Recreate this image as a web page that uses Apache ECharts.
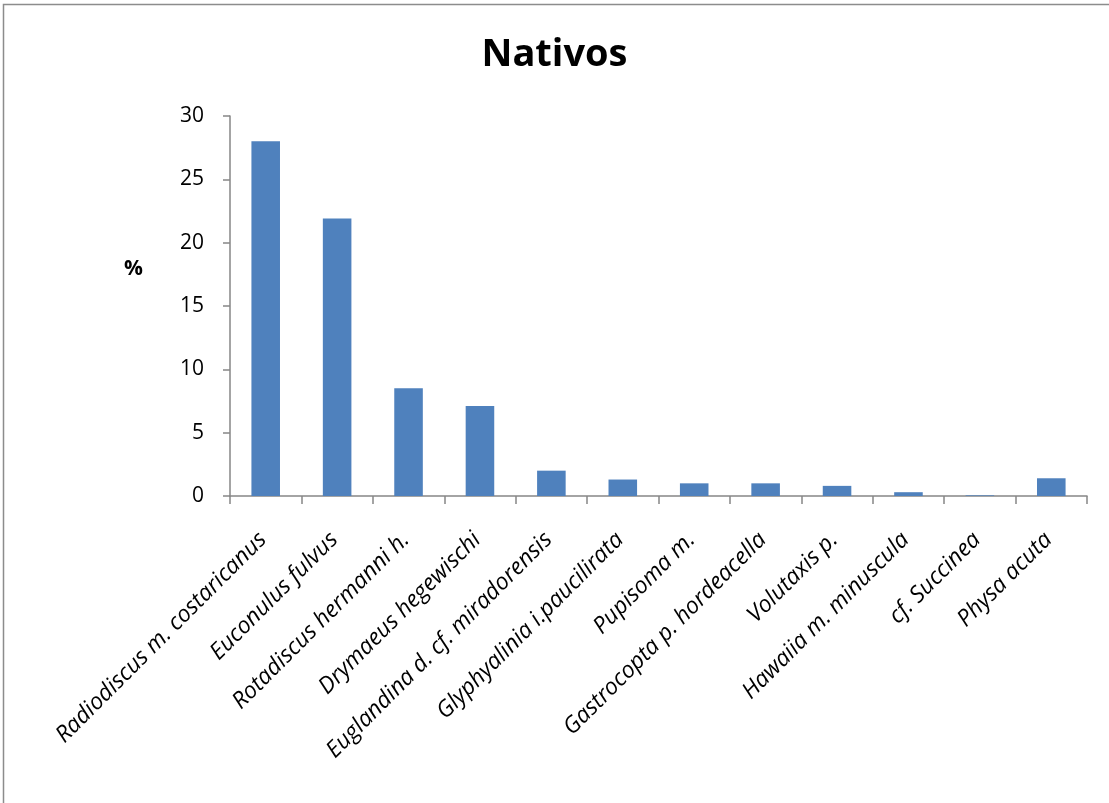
<!DOCTYPE html>
<html>
<head>
<meta charset="utf-8">
<script src="https://cdn.jsdelivr.net/npm/echarts@6/dist/echarts.min.js"></script>
<style>
  html, body { margin: 0; padding: 0; background: #fff; }
  #chart { width: 1109px; height: 803px; }
</style>
</head>
<body>
<div id="chart"></div>
<script>
// Native land snail species and their share (%) of the sample
const species = [
  'Radiodiscus m. costaricanus',
  'Euconulus fulvus',
  'Rotadiscus hermanni h.',
  'Drymaeus hegewischi',
  'Euglandina d. cf. miradorensis',
  'Glyphyalinia i.paucilirata',
  'Pupisoma m.',
  'Gastrocopta p. hordeacella',
  'Volutaxis p.',
  'Hawaiia m. minuscula',
  'cf. Succinea',
  'Physa acuta'
];
const percent = [28, 21.9, 8.5, 7.1, 2, 1.3, 1, 1, 0.8, 0.3, 0.05, 1.4];
const yTicks = { min: 0, max: 30, interval: 5 };

const axisGray = '#868686';
const font = 'Open Sans';

const chart = echarts.init(document.getElementById('chart'), null, { renderer: 'canvas' });
chart.setOption({
  animation: false,
  backgroundColor: '#ffffff',
  title: {
    text: 'Nativos',
    left: 'center',
    top: 31,
    textStyle: { fontFamily: font, fontWeight: 'bold', fontSize: 38, color: '#000' }
  },
  graphic: [
    {
      type: 'rect',
      shape: { x: 3.5, y: 4.5, width: 1200, height: 900 },
      style: { fill: 'none', stroke: '#8c8c8c', lineWidth: 1.5 },
      silent: true
    },
    {
      type: 'text',
      left: 124,
      top: 259,
      style: { text: '%', fontFamily: font, fontWeight: 'bold', fontSize: 21, fill: '#000' }
    }
  ],
  grid: { left: 230, right: 22, top: 116, bottom: 307, containLabel: false },
  xAxis: {
    type: 'category',
    data: species,
    boundaryGap: true,
    axisLine: { lineStyle: { color: axisGray, width: 1.5 } },
    axisTick: { show: true, alignWithLabel: false, length: 8, lineStyle: { color: axisGray, width: 1.5 } },
    axisLabel: {
      interval: 0,
      rotate: 45,
      margin: 43,
      verticalAlign: 'bottom',
      lineHeight: 8,
      fontFamily: font,
      fontStyle: 'italic',
      fontSize: 23,
      color: '#000'
    },
    splitLine: { show: false }
  },
  yAxis: {
    type: 'value',
    min: yTicks.min,
    max: yTicks.max,
    interval: yTicks.interval,
    axisLine: { show: true, lineStyle: { color: axisGray, width: 1.5 } },
    axisTick: { show: true, length: 7, lineStyle: { color: axisGray, width: 1.5 } },
    axisLabel: { margin: 26, fontFamily: font, fontSize: 21, color: '#000' },
    splitLine: { show: false }
  },
  series: [
    {
      type: 'bar',
      data: percent,
      barWidth: '40%',
      itemStyle: { color: '#4f81bd' }
    }
  ]
});
</script>
</body>
</html>
